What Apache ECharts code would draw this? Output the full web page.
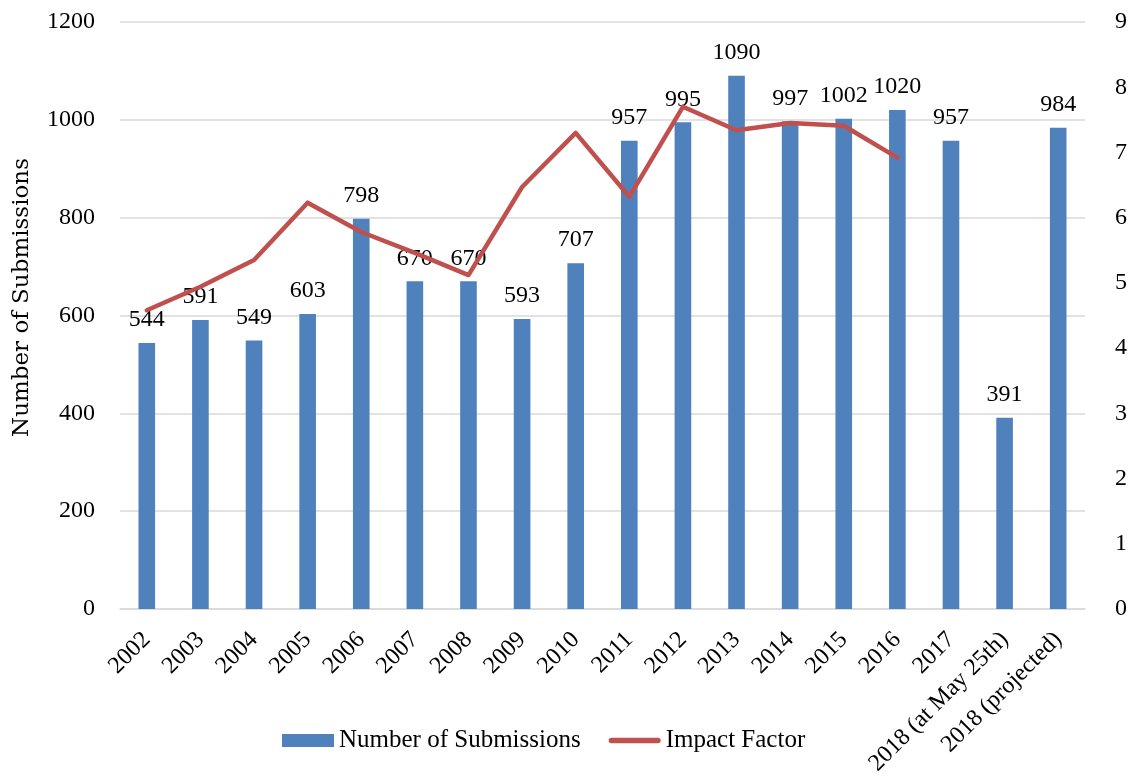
<!DOCTYPE html>
<html>
<head>
<meta charset="utf-8">
<script src="https://cdn.jsdelivr.net/npm/echarts@6/dist/echarts.min.js"></script>
<style>
  html, body { margin: 0; padding: 0; background: #fff; }
  #main { width: 1130px; height: 780px; }
</style>
</head>
<body>
<div id="main"></div>
<script>
var years = ['2002', '2003', '2004', '2005', '2006', '2007', '2008', '2009', '2010', '2011', '2012', '2013', '2014', '2015', '2016', '2017', '2018 (at May 25th)', '2018 (projected)']
var submissions = [544, 591, 549, 603, 798, 670, 670, 593, 707, 957, 995, 1090, 997, 1002, 1020, 957, 391, 984]
var impactFactor = [4.58, 4.94, 5.35, 6.23, 5.78, 5.46, 5.12, 6.47, 7.30, 6.32, 7.70, 7.34, 7.45, 7.41, 6.92, null, null, null]

var serif = '"Liberation Serif", "DejaVu Serif", serif'

var chart = echarts.init(document.getElementById('main'))
var option = {
  animation: false,
  color: ['#4f81bd', '#c0504d'],
  grid: {
    left: 120,
    right: 45,
    top: 22,
    bottom: 171
  },
  legend: {
    bottom: 22,
    left: 277,
    itemGap: 28,
    itemWidth: 52,
    itemHeight: 13,
    textStyle: {
      fontFamily: serif,
      fontSize: 25,
      color: '#000'
    },
    data: [
      { name: 'Number of Submissions', icon: 'rect' },
      { name: 'Impact Factor', icon: 'path://M3,0 L53,0 A3,3 0 0 1 53,6 L3,6 A3,3 0 0 1 3,0 Z' }
    ]
  },
  xAxis: {
    type: 'category',
    data: years,
    axisTick: { show: false },
    axisLine: { lineStyle: { color: '#d9d9d9', width: 1.5 } },
    axisLabel: {
      rotate: 45,
      interval: 0,
      margin: 27,
      fontFamily: serif,
      fontSize: 24,
      color: '#000'
    }
  },
  yAxis: [
    {
      type: 'value',
      min: 0,
      max: 1200,
      interval: 200,
      name: 'Number of Submissions',
      nameLocation: 'middle',
      nameGap: 86,
      nameTextStyle: {
        fontFamily: '"DejaVu Serif", serif',
        fontSize: 23,
        color: '#000',
        padding: [0, 0, 0, 36]
      },
      axisLine: { show: false },
      axisTick: { show: false },
      axisLabel: {
        formatter: function (v) { return String(v) },
        fontFamily: serif,
        fontSize: 24,
        color: '#000',
        margin: 25
      },
      splitLine: { lineStyle: { color: '#d9d9d9', width: 1.5 } }
    },
    {
      type: 'value',
      min: 0,
      max: 9,
      interval: 1,
      axisLine: { show: false },
      axisTick: { show: false },
      axisLabel: { fontFamily: serif, fontSize: 24, color: '#000', margin: 30 },
      splitLine: { show: false }
    }
  ],
  series: [
    {
      name: 'Number of Submissions',
      type: 'bar',
      barWidth: '31%',
      data: submissions,
      label: {
        show: true,
        position: 'top',
        distance: 11,
        fontFamily: serif,
        fontSize: 24,
        color: '#000'
      }
    },
    {
      name: 'Impact Factor',
      type: 'line',
      yAxisIndex: 1,
      data: impactFactor,
      symbol: 'none',
      lineStyle: { width: 4.5, color: '#c0504d', cap: 'round', join: 'round' }
    }
  ]
}
chart.setOption(option)
</script>
</body>
</html>
